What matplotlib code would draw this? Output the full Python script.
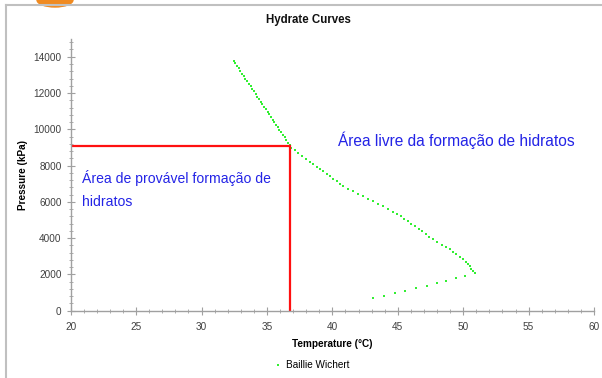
import matplotlib
matplotlib.use('Agg')
import matplotlib.pyplot as plt
from matplotlib.ticker import MultipleLocator
from matplotlib.patches import Ellipse
from matplotlib.lines import Line2D

plt.rcParams['font.family'] = ['Liberation Sans', 'DejaVu Sans']

# Baillie Wichert hydrate curve (temperature degC, pressure kPa)
temp_c = [43.09, 43.93, 44.77, 45.58, 46.42, 47.24, 47.98, 48.69, 49.43, 50.17, 50.89,
          50.76, 50.63, 50.50, 50.35, 50.20, 49.99, 49.74, 49.48, 49.23, 48.98,
          48.67, 48.36, 48.03, 47.70, 47.42, 47.14, 46.88, 46.61, 46.32, 46.04,
          45.79, 45.50, 45.23, 44.97, 44.66, 44.28, 43.90, 43.52, 43.13, 42.75,
          42.35, 41.96, 41.58, 41.22, 40.84, 40.59, 40.34, 40.08, 39.82, 39.57,
          39.31, 39.06, 38.81, 38.55, 38.30, 38.01, 37.66, 37.38, 37.13, 36.87,
          36.74, 36.61, 36.48, 36.35, 36.22, 36.09, 35.96, 35.83, 35.70, 35.57,
          35.44, 35.31, 35.18, 35.05, 34.92, 34.79, 34.66, 34.53, 34.40, 34.27,
          34.14, 34.01, 33.88, 33.75, 33.62, 33.49, 33.36, 33.23, 33.10, 32.97,
          32.84, 32.71, 32.58, 32.46]
press_kpa = [683, 827, 959, 1086, 1235, 1361, 1510, 1637, 1786, 1913, 2061,
             2205, 2315, 2464, 2591, 2684, 2833, 2976, 3109, 3252, 3384,
             3528, 3638, 3803, 3936, 4079, 4228, 4377, 4503, 4652, 4779,
             4928, 5055, 5203, 5347, 5457, 5606, 5755, 5898, 6030, 6157,
             6306, 6449, 6598, 6725, 6874, 6984, 7133, 7276, 7425, 7551,
             7684, 7794, 7937, 8070, 8213, 8362, 8544, 8709, 8858, 8985,
             9126, 9267, 9408, 9549, 9690, 9831, 9972, 10113, 10254, 10395,
             10536, 10677, 10818, 10959, 11100, 11241, 11382, 11523, 11664, 11805,
             11946, 12087, 12228, 12369, 12510, 12651, 12792, 12933, 13074, 13215,
             13356, 13497, 13638, 13780]

# operating point marked in red
op_temp = 36.74
op_press = 9100

xticks = [20, 25, 30, 35, 40, 45, 50, 55, 60]
yticks = [0, 2000, 4000, 6000, 8000, 10000, 12000, 14000]

fig = plt.figure(figsize=(6.02, 3.78), dpi=100)
ax = fig.add_axes([70.7/602, 1-310.7/378, (594-70.7)/602, (310.7-38.6)/378])

ax.plot(temp_c, press_kpa, linestyle='none', marker='s', markersize=2.0,
        color='#33ee33', markeredgewidth=0)
ax.plot([20, op_temp, op_temp], [op_press, op_press, 0], color='#ff1010', lw=1.6,
        solid_joinstyle='miter')

ax.set_xlim(20, 60)
ax.set_ylim(0, 15000)
ax.set_xticks(xticks)
ax.set_yticks(yticks)
ax.xaxis.set_minor_locator(MultipleLocator(1))
ax.yaxis.set_minor_locator(MultipleLocator(400))

for s in ['top', 'right']:
    ax.spines[s].set_visible(False)
for s in ['left', 'bottom']:
    ax.spines[s].set_color('#a0a0a0')
    ax.spines[s].set_linewidth(1.0)
ax.tick_params(which='both', direction='inout', colors='#a0a0a0', labelcolor='#404040',
               labelsize=7.2)
ax.tick_params(which='major', length=6)
ax.tick_params(which='minor', length=3)
ax.tick_params(axis='x', pad=5)

ax.set_xlabel('Temperature (°C)', fontsize=7.2, fontweight='bold', labelpad=5)
ax.set_ylabel('Pressure (kPa)', fontsize=7.2, fontweight='bold', labelpad=4)

fig.text(308/602, 1-20/378, 'Hydrate Curves', ha='center', va='center',
         fontsize=8.3, fontweight='bold', color='#111111')

ax.text(40.44, 9409, 'Área livre da formação de hidratos', color='#2424e6',
        fontsize=11.2, va='center')
ax.text(20.86, 6680, 'Área de provável formação de\nhidratos', color='#2424e6',
        fontsize=10.1, va='center', linespacing=1.9)

legend_handle = Line2D([], [], linestyle='none', marker='s', markersize=2.0,
                       color='#33ee33', markeredgewidth=0)
fig.legend([legend_handle], ['Baillie Wichert'], loc='center',
           bbox_to_anchor=(312/602, 1-365/378), frameon=False, fontsize=7.2,
           handlelength=0.6, handletextpad=0.5)

# screenshot frame
fig.add_artist(Line2D([6/602, 6/602], [0, 1-5/378], color='#c0c0c0', lw=1.5))
fig.add_artist(Line2D([6/602, 1], [1-5/378, 1-5/378], color='#c0c0c0', lw=1.5))
fig.add_artist(Ellipse((55/602, 1.0), 36/602, 14/378, color='#f08a20', clip_on=False))

fig.savefig('out.png', dpi=100)
